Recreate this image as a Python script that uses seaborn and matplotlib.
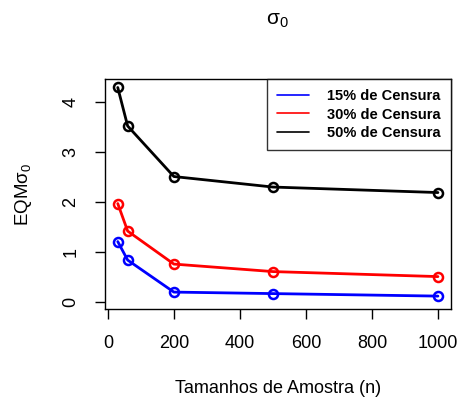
import matplotlib
matplotlib.use("Agg")
from matplotlib import pyplot as plt
from matplotlib.lines import Line2D
import pandas as pd
import seaborn as sns

# Data
tamanhos = [30, 60, 200, 500, 1000]
eqm_15 = [1.21, 0.84, 0.20, 0.17, 0.12]
eqm_30 = [1.97, 1.42, 0.76, 0.61, 0.51]
eqm_50 = [4.29, 3.52, 2.51, 2.30, 2.19]
series = ["15% de Censura", "30% de Censura", "50% de Censura"]
colors = ["blue", "red", "black"]

df = pd.DataFrame({
    "n": tamanhos * 3,
    "eqm": eqm_15 + eqm_30 + eqm_50,
    "censura": [s for s in series for _ in tamanhos],
})

sns.set_theme(style="white")
plt.rcParams["font.family"] = ["Liberation Sans", "DejaVu Sans"]
plt.rcParams["mathtext.fontset"] = "custom"
plt.rcParams["mathtext.rm"] = "Liberation Sans"
plt.rcParams["text.color"] = "black"
plt.rcParams["axes.labelcolor"] = "black"

fig = plt.figure(figsize=(4.6, 4.03), dpi=100)
ax = fig.add_axes([0.228, 0.233, 0.752, 0.571])

sns.lineplot(data=df, x="n", y="eqm", hue="censura", palette=dict(zip(series, colors)),
             marker="o", markersize=6.5, markerfacecolor="none", markeredgewidth=1.8,
             linewidth=2, legend=False, ax=ax)
# open circles in the line colour
for line in ax.lines:
    line.set_markeredgecolor(line.get_color())

ax.set_xlim(-9, 1039)
ax.set_ylim(-0.14, 4.46)
ax.set_xticks([0, 200, 400, 600, 800, 1000])
ax.set_yticks([0, 1, 2, 3, 4])
ax.tick_params(axis="both", direction="out", length=7.5, width=1, colors="black",
               labelsize=13, bottom=True, left=True, pad=11)
for lab in ax.get_yticklabels():
    lab.set_rotation(90)
    lab.set_va("center")
for sp in ax.spines.values():
    sp.set_color("black")
    sp.set_linewidth(1)

ax.set_xlabel("Tamanhos de Amostra (n)", fontsize=13, labelpad=20)
ax.set_ylabel("EQMσ$_0$", fontsize=13.5, labelpad=20)
fig.text(0.604, 0.95, "σ$_0$", ha="center", va="center", fontsize=15)

handles = [Line2D([], [], color=c, linewidth=1.2) for c in colors]
leg = ax.legend(handles, series, loc="upper right", frameon=True, fancybox=False,
                borderaxespad=0, handlelength=2.2, handletextpad=1.2,
                prop={"weight": "bold", "size": 10.5},
                labelspacing=0.3, borderpad=0.7)
leg.get_frame().set_edgecolor("black")
leg.get_frame().set_linewidth(1)

fig.savefig("out.png", dpi=100)
